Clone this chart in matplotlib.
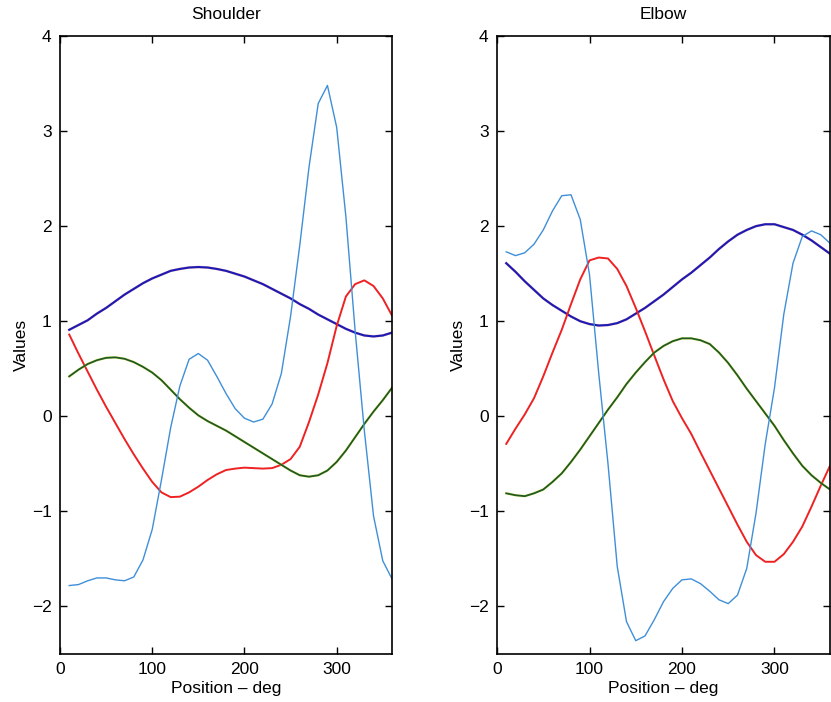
import numpy as np
import matplotlib
matplotlib.use("Agg")
import matplotlib.pyplot as plt

plt.rcParams['font.family'] = ['Liberation Sans', 'DejaVu Sans']

# joint position in degrees, 10 deg steps
pos = np.arange(10, 361, 10)

# Shoulder
sh_blue = [0.91, 0.96, 1.01, 1.08, 1.14, 1.21, 1.28, 1.34, 1.40, 1.45,
           1.49, 1.53, 1.55, 1.565, 1.57, 1.565, 1.55, 1.53, 1.50, 1.47,
           1.43, 1.39, 1.34, 1.29, 1.24, 1.18, 1.13, 1.07, 1.02, 0.97,
           0.92, 0.88, 0.85, 0.84, 0.85, 0.88]
sh_red = [0.86, 0.66, 0.47, 0.28, 0.10, -0.07, -0.24, -0.40, -0.55, -0.69,
          -0.80, -0.85, -0.845, -0.80, -0.74, -0.67, -0.61, -0.565, -0.55, -0.54,
          -0.545, -0.55, -0.545, -0.51, -0.45, -0.32, -0.06, 0.23, 0.56, 0.95,
          1.26, 1.39, 1.43, 1.37, 1.24, 1.06]
sh_green = [0.42, 0.49, 0.55, 0.59, 0.615, 0.62, 0.605, 0.57, 0.52, 0.46,
            0.38, 0.28, 0.18, 0.09, 0.01, -0.05, -0.10, -0.15, -0.21, -0.27,
            -0.33, -0.39, -0.45, -0.51, -0.57, -0.62, -0.635, -0.62, -0.57, -0.48,
            -0.36, -0.22, -0.08, 0.05, 0.17, 0.30]
sh_cyan = [-1.78, -1.77, -1.73, -1.70, -1.70, -1.72, -1.73, -1.69, -1.51, -1.19,
           -0.67, -0.12, 0.32, 0.60, 0.66, 0.59, 0.42, 0.24, 0.08, -0.02,
           -0.06, -0.03, 0.13, 0.45, 1.05, 1.80, 2.62, 3.29, 3.48, 3.04,
           2.10, 0.90, -0.15, -1.05, -1.52, -1.71]

# Elbow
el_blue = [1.61, 1.52, 1.42, 1.33, 1.24, 1.17, 1.11, 1.05, 1.00, 0.97,
           0.955, 0.96, 0.98, 1.02, 1.08, 1.14, 1.21, 1.28, 1.36, 1.44,
           1.51, 1.59, 1.67, 1.76, 1.84, 1.91, 1.96, 2.00, 2.02, 2.02,
           1.99, 1.96, 1.91, 1.85, 1.78, 1.71]
el_red = [-0.29, -0.13, 0.02, 0.19, 0.42, 0.67, 0.91, 1.18, 1.44, 1.64,
          1.67, 1.66, 1.55, 1.37, 1.14, 0.895, 0.64, 0.39, 0.16, -0.02,
          -0.185, -0.38, -0.57, -0.76, -0.95, -1.14, -1.32, -1.46, -1.53, -1.53,
          -1.45, -1.32, -1.16, -0.95, -0.73, -0.52]
el_green = [-0.81, -0.83, -0.84, -0.81, -0.77, -0.69, -0.60, -0.48, -0.35, -0.21,
            -0.07, 0.07, 0.20, 0.34, 0.46, 0.57, 0.67, 0.74, 0.79, 0.82,
            0.82, 0.80, 0.76, 0.67, 0.56, 0.43, 0.29, 0.16, 0.03, -0.10,
            -0.25, -0.39, -0.52, -0.62, -0.70, -0.77]
el_cyan = [1.73, 1.69, 1.72, 1.81, 1.96, 2.16, 2.32, 2.33, 2.07, 1.49,
           0.45, -0.50, -1.58, -2.16, -2.36, -2.31, -2.14, -1.95, -1.81, -1.72,
           -1.71, -1.76, -1.84, -1.93, -1.97, -1.88, -1.60, -1.02, -0.29, 0.30,
           1.07, 1.61, 1.89, 1.95, 1.91, 1.82]

fig = plt.figure(figsize=(8.31, 7.02), dpi=100)
ax1 = fig.add_axes([60 / 831, 48 / 702, 332 / 831, 618 / 702])
ax2 = fig.add_axes([497 / 831, 48 / 702, 333 / 831, 618 / 702])


def draw(ax, title, blue, red, green, cyan):
    # faint red under the blue one, faint yellow under the green one
    ax.plot(pos, blue, color='#e03030', lw=1.9, alpha=0.35)
    ax.plot(pos, blue, color='#1a1ab4', lw=1.5)
    ax.plot(pos, red, color='#ee2222', lw=1.4)
    ax.plot(pos, green, color='#e0e020', lw=1.9, alpha=0.5)
    ax.plot(pos, green, color='#1e5a22', lw=1.3)
    ax.plot(pos, cyan, color='#3f8fd8', lw=1.0)
    ax.set_xlim(0, 360)
    ax.set_ylim(-2.5, 4)
    ax.set_xticks([0, 100, 200, 300])
    ax.set_yticks([-2, -1, 0, 1, 2, 3, 4])
    ax.tick_params(direction='in', length=5, width=1, top=True, right=True,
                   labelsize=12.5, pad=6)
    for s in ax.spines.values():
        s.set_linewidth(1.2)
    ax.set_title(title, fontsize=12.5, pad=12)
    ax.set_xlabel('Position \u2013 deg', fontsize=12.5, labelpad=3)
    ax.set_ylabel('Values', fontsize=12.5, labelpad=2)


draw(ax1, 'Shoulder', sh_blue, sh_red, sh_green, sh_cyan)
draw(ax2, 'Elbow', el_blue, el_red, el_green, el_cyan)

fig.savefig('out.png', dpi=100)
